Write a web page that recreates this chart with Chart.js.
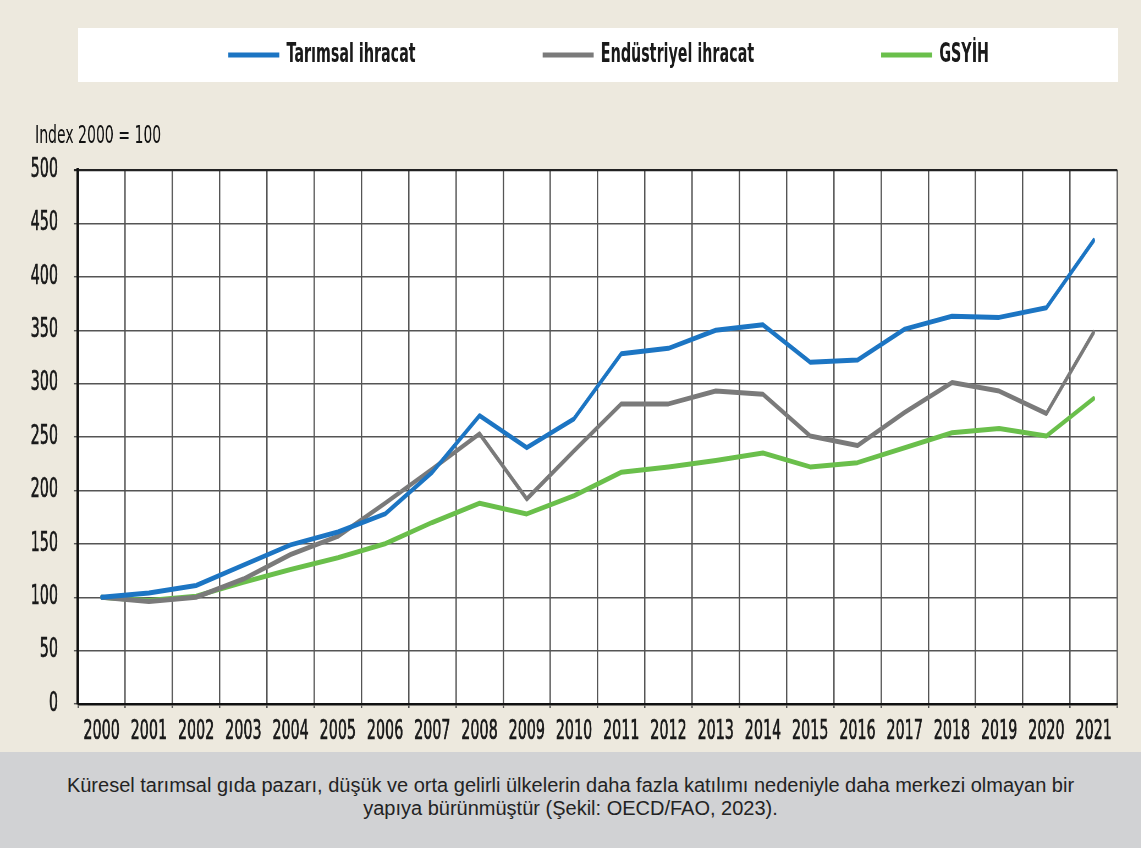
<!DOCTYPE html>
<html lang="tr">
<head>
<meta charset="utf-8">
<title>Tarımsal ihracat, endüstriyel ihracat ve GSYİH</title>
<script src="https://cdn.jsdelivr.net/npm/chart.js@4.4.1/dist/chart.umd.min.js"></script>
<style>
  html, body { margin: 0; padding: 0; }
  body {
    width: 1141px;
    height: 848px;
    background: #ede9de;
    position: relative;
    overflow: hidden;
  }
  #legendBox {
    position: absolute;
    left: 78px;
    top: 28px;
    width: 1040px;
    height: 54px;
    background: #ffffff;
  }
  /* the original uses a tall condensed face; we draw wide and squeeze the canvas */
  #indexChart {
    position: absolute;
    left: 0;
    top: 0;
    transform: scaleX(0.55);
    transform-origin: 0 0;
  }
  #caption {
    position: absolute;
    left: 0;
    top: 752px;
    width: 1141px;
    height: 96px;
    background: #d1d2d4;
    box-sizing: border-box;
    padding: 22px 30px 0 30px;
    font-family: "Liberation Sans", Arial, sans-serif;
    font-size: 20px;
    line-height: 23px;
    color: #232323;
    text-align: center;
  }
</style>
</head>
<body>
<div id="legendBox"></div>
<canvas id="indexChart" width="2075" height="752"></canvas>
<div id="caption">Küresel tarımsal gıda pazarı, düşük ve orta gelirli ülkelerin daha fazla katılımı nedeniyle daha merkezi olmayan bir<br>yapıya bürünmüştür (Şekil: OECD/FAO, 2023).</div>

<script>
/* --------------- Data --------------------- */
const years = ["2000", "2001", "2002", "2003", "2004", "2005", "2006", "2007", "2008", "2009", "2010",
  "2011", "2012", "2013", "2014", "2015", "2016", "2017", "2018", "2019", "2020", "2021"];

const tarimsalIhracat = [100, 104, 111, 130, 149, 161, 178, 217, 270, 240, 267,
  328, 333, 350, 355, 320, 322, 351, 363, 362, 371, 434];

const endustriyelIhracat = [100, 96, 100, 117, 140, 157, 188, 220, 253, 192, 237,
  281, 281, 293, 290, 251, 242, 273, 301, 293, 272, 348];

const gsyih = [100, 97, 101, 114, 126, 137, 150, 170, 188, 178, 195,
  217, 222, 228, 235, 222, 226, 240, 254, 258, 251, 286];

const seriesNames = ["Tarımsal ihracat", "Endüstriyel ihracat", "GSYİH"];
const yTicks = [0, 50, 100, 150, 200, 250, 300, 350, 400, 450, 500];
const axisTitle = "Index 2000 = 100";

/* --------------- Styles --------------------- */
const SX = 0.55; // horizontal squeeze applied to the canvas by CSS
const wide = (px) => px / SX; // screen px -> canvas px, horizontal only
const lineColors = ["#1c75c3", "#7a7a7a", "#6abf4b"];
const font = "'DejaVu Sans', sans-serif";
const textColor = "#1a1a1a";
const gridColor = "#555555";

// white plot background
const plotBackground = {
  id: "plotBackground",
  beforeDraw(chart) {
    const { ctx, chartArea } = chart;
    ctx.save();
    ctx.fillStyle = "#ffffff";
    ctx.fillRect(chartArea.left, chartArea.top, chartArea.width, chartArea.height);
    ctx.restore();
  },
};

// legend and the "Index" note are not where the default layout puts them
const boxNudge = {
  id: "boxNudge",
  afterLayout(chart) {
    const shift = (box, dx) => {
      if (!box) return;
      box.left += dx;
      box.right += dx;
    };
    shift(chart.legend, wide(39));
    shift(chart.boxes.find((b) => b.options && b.options.text === axisTitle), wide(13));
  },
};

function makeDataset(label, data, color) {
  return {
    label,
    data,
    borderColor: color,
    backgroundColor: color,
    borderWidth: 5,
    pointRadius: 0,
    pointHoverRadius: 0,
    tension: 0,
    borderJoinStyle: "round",
    borderCapStyle: "round",
    fill: false,
  };
}

/* --------------- Chart --------------------- */
const legendPad = wide(127);
const legendSize = 26;
const tickFont = { family: font, size: 26 };

const indexChart = new Chart(document.getElementById("indexChart"), {
  type: "line",
  plugins: [plotBackground, boxNudge],
  data: {
    labels: years,
    datasets: [
      makeDataset(seriesNames[0], tarimsalIhracat, lineColors[0]),
      makeDataset(seriesNames[1], endustriyelIhracat, lineColors[1]),
      makeDataset(seriesNames[2], gsyih, lineColors[2]),
    ],
  },
  options: {
    responsive: false,
    animation: false,
    events: [],
    layout: {
      // negative top: the legend padding is also its horizontal gap, so pull it up
      padding: { top: 55 - legendSize / 2 - legendPad, left: wide(22), right: wide(24), bottom: 0 },
    },
    plugins: {
      tooltip: { enabled: false },
      legend: {
        position: "top",
        weight: 3000,
        labels: {
          usePointStyle: true,
          pointStyle: "line",
          pointStyleWidth: wide(51),
          padding: legendPad,
          color: textColor,
          font: { family: font, size: legendSize, weight: "bold" },
        },
      },
      subtitle: {
        display: true,
        text: axisTitle,
        align: "start",
        position: "top",
        weight: 500,
        color: "#111111",
        font: { family: font, size: 25.5, weight: "normal" },
        padding: { top: 42.7, bottom: 18.7 },
      },
    },
    scales: {
      x: {
        type: "category",
        offset: true,
        afterFit(scale) {
          scale.height = 48;
        },
        grid: {
          offset: true,
          tickLength: 4,
          color: (c) => (c.index === years.length ? "#222222" : gridColor),
          lineWidth: (c) => wide(c.index === years.length ? 2.2 : 1.4),
        },
        border: { color: "#111111", width: 2.6 },
        ticks: {
          color: textColor,
          textStrokeColor: textColor,
          textStrokeWidth: 0.7,
          padding: 8.8,
          maxRotation: 0,
          autoSkip: false,
          font: tickFont,
        },
      },
      y: {
        min: 0,
        max: 500,
        afterFit(scale) {
          scale.width = wide(56);
        },
        afterBuildTicks(scale) {
          scale.ticks = yTicks.map((v) => ({ value: v }));
        },
        grid: {
          tickLength: wide(4),
          color: (c) => (c.tick && c.tick.value === 500 ? "#222222" : gridColor),
          lineWidth: (c) => (c.tick && c.tick.value === 500 ? 2.2 : 1.4),
        },
        border: { color: "#111111", width: wide(2.6) },
        ticks: {
          color: textColor,
          textStrokeColor: textColor,
          textStrokeWidth: 0.7,
          padding: wide(16),
          font: tickFont,
        },
      },
    },
  },
});
</script>
</body>
</html>
